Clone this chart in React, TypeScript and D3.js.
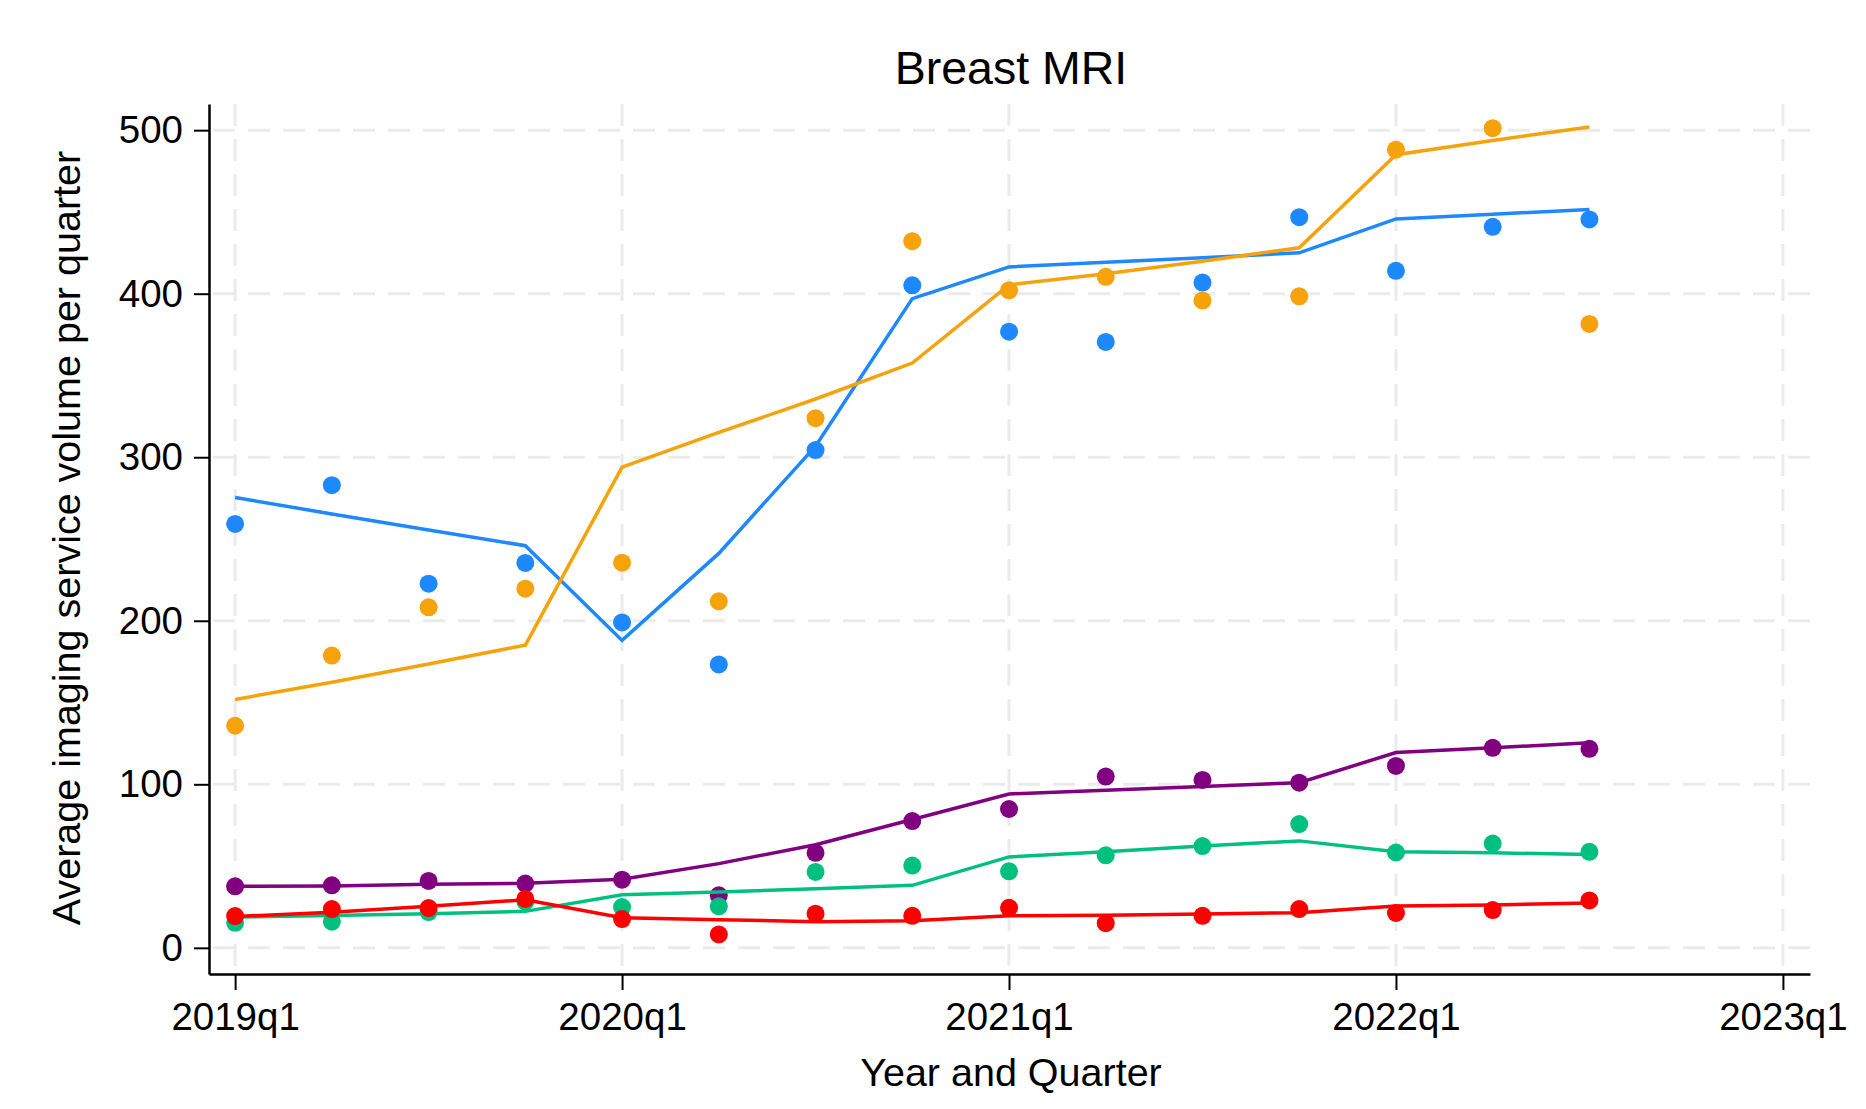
import React, { useEffect, useRef } from 'react';
import * as d3 from 'd3';

// quarter index: 0 = 2019q1 ... 14 = 2022q3
const quarters = d3.range(0, 15);
const yearTicks = [0, 4, 8, 12, 16];
const yearLabels = ['2019q1', '2020q1', '2021q1', '2022q1', '2023q1'];
const yTicks = [0, 100, 200, 300, 400, 500];

const blueDots = [259.2, 282.9, 222.7, 235.4, 199, 173.3, 304.4, 405.1, 376.8, 370.5, 406.8, 446.8, 414, 440.9, 445.4];
const blueFit = [275.4, 265.3, 255.5, 245.9, 188, 241.2, 306.8, 397, 416.4, 419.2, 422, 425, 445.7, 448.6, 451.5];
const orangeDots = [135.8, 178.7, 208.2, 219.6, 235.5, 211.9, 323.9, 432.1, 402.1, 410.3, 395.8, 398.4, 488.1, 501.2, 381.5];
const orangeFit = [151.9, 162.4, 173.6, 185.1, 293.9, 315.2, 335.6, 357.6, 405.4, 412.2, 419.9, 428.1, 485, 493.7, 502];
const purpleDots = [37.6, 38.2, 40.9, 39.3, 41.7, 32.1, 58.1, 77.5, 84.9, 104.7, 102.7, 101, 111.2, 122.3, 121.7];
const purpleFit = [37.6, 37.8, 38.9, 39.5, 42, 51.5, 63, 78.5, 94.1, 96.3, 98.6, 101, 119.4, 122.3, 125.4];
const greenDots = [15.3, 16, 21.9, 28.2, 24.9, 25.4, 46.4, 50.3, 46.8, 56.6, 62.2, 75.7, 58.3, 63.8, 58.7];
const greenFit = [18.8, 19.8, 20.9, 22.3, 32.5, 34.2, 36.2, 38.2, 55.6, 58.7, 62.2, 65.4, 58.7, 58.1, 57.1];
const redDots = [19.4, 23.7, 24.3, 29.9, 17.6, 8.2, 20.9, 19.6, 24.5, 15.1, 19.6, 23.7, 21.3, 23.1, 29];
const redFit = [19.2, 21.7, 25.4, 29.4, 18.4, 17.2, 16, 16.6, 19.6, 20, 20.7, 21.5, 25.6, 26.2, 27.4];

const series = [
  { color: '#1e88ff', dots: blueDots, fit: blueFit },
  { color: '#f6a20b', dots: orangeDots, fit: orangeFit },
  { color: '#800080', dots: purpleDots, fit: purpleFit },
  { color: '#00c07f', dots: greenDots, fit: greenFit },
  { color: '#ff0000', dots: redDots, fit: redFit },
];

const W = 1866;
const H = 1109;
const FONT = '"Liberation Sans", Arial, Helvetica, sans-serif';

const App: React.FC = () => {
  const svgRef = useRef<SVGSVGElement>(null);

  useEffect(() => {
    if (!svgRef.current) return;
    const svg = d3.select(svgRef.current);
    svg.selectAll('*').remove();

    const x = d3.scaleLinear().domain([-0.27, 16.28]).range([209, 1810]);
    const y = d3.scaleLinear().domain([-16, 516]).range([974, 104]);

    const grid = svg.append('g')
      .attr('stroke', '#ebebeb')
      .attr('stroke-width', 3)
      .attr('stroke-dasharray', '22 13');
    grid.selectAll('line.h')
      .data(yTicks)
      .join('line')
      .attr('class', 'h')
      .attr('x1', x.range()[0] + 4)
      .attr('x2', x.range()[1])
      .attr('y1', d => y(d))
      .attr('y2', d => y(d));
    grid.selectAll('line.v')
      .data(yearTicks)
      .join('line')
      .attr('class', 'v')
      .attr('x1', d => x(d))
      .attr('x2', d => x(d))
      .attr('y1', y.range()[1])
      .attr('y2', y.range()[0] - 4);

    series.forEach(s => {
      const g = svg.append('g');
      g.selectAll('circle')
        .data(quarters)
        .join('circle')
        .attr('cx', d => x(d))
        .attr('cy', d => y(s.dots[d]))
        .attr('r', 9)
        .attr('fill', s.color);
      const line = d3.line<number>()
        .x(d => x(d))
        .y(d => y(s.fit[d]));
      g.append('path')
        .datum(quarters)
        .attr('d', line)
        .attr('fill', 'none')
        .attr('stroke', s.color)
        .attr('stroke-width', 3.5);
    });

    const yAxis = svg.append('g')
      .attr('transform', `translate(${x.range()[0]},0)`)
      .call(d3.axisLeft(y).tickValues(yTicks).tickSize(15).tickSizeOuter(0).tickPadding(11));
    const xAxis = svg.append('g')
      .attr('transform', `translate(0,${y.range()[0]})`)
      .call(d3.axisBottom(x).tickValues(yearTicks).tickSize(16).tickSizeOuter(0).tickPadding(13)
        .tickFormat((d, i) => yearLabels[i]));

    [yAxis, xAxis].forEach(a => {
      a.select('.domain').attr('stroke', '#000').attr('stroke-width', 2.5);
      a.selectAll('.tick line').attr('stroke', '#000').attr('stroke-width', 2);
      a.selectAll('.tick text')
        .attr('font-family', FONT)
        .attr('font-size', 38.5)
        .attr('fill', '#000');
    });

    svg.append('text')
      .attr('x', 1011)
      .attr('y', 84)
      .attr('text-anchor', 'middle')
      .attr('font-family', FONT)
      .attr('font-size', 46.5)
      .text('Breast MRI');

    svg.append('text')
      .attr('x', 1011)
      .attr('y', 1086)
      .attr('text-anchor', 'middle')
      .attr('font-family', FONT)
      .attr('font-size', 39.5)
      .text('Year and Quarter');

    svg.append('text')
      .attr('transform', 'translate(80,538) rotate(-90)')
      .attr('text-anchor', 'middle')
      .attr('font-family', FONT)
      .attr('font-size', 39.5)
      .text('Average imaging service volume per quarter');
  }, []);

  return (
    <div style={{ position: 'absolute', left: 0, top: 0, width: W, height: H, background: '#fff' }}>
      <svg ref={svgRef} width={W} height={H} style={{ display: 'block' }} />
    </div>
  );
};

export default App;
